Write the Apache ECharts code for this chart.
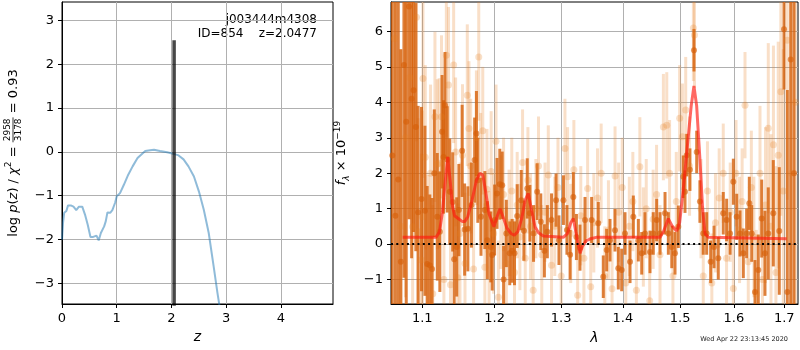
<!DOCTYPE html>
<html>
<head>
<meta charset="utf-8">
<script src="https://cdn.jsdelivr.net/npm/echarts@6.0.0/dist/echarts.min.js"></script>
<style>
html, body { margin: 0; padding: 0; background: #fff; }
#main { width: 800px; height: 350px; }
</style>
</head>
<body>
<div id="main"></div>
<script>
// left panel: log p(z)
var pzZ = [0.00, 0.02, 0.04, 0.08, 0.11, 0.16, 0.21, 0.26, 0.31, 0.37, 0.42, 0.47, 0.52, 0.57, 0.63, 0.67,
  0.71, 0.77, 0.80, 0.83, 0.88, 0.92, 0.97, 1.00, 1.06, 1.13, 1.21, 1.29, 1.38, 1.43, 1.52, 1.61,
  1.68, 1.79, 1.92, 2.03, 2.13, 2.22, 2.31, 2.41, 2.50, 2.59, 2.68, 2.77, 2.84, 2.90];
var pzLog = [-2.00, -1.60, -1.39, -1.35, -1.22, -1.22, -1.25, -1.33, -1.25, -1.25, -1.43, -1.66, -1.94, -1.94, -1.91, -2.02,
  -1.85, -1.70, -1.58, -1.38, -1.39, -1.33, -1.16, -1.01, -0.94, -0.75, -0.52, -0.33, -0.14, -0.08, 0.02, 0.04,
  0.05, 0.02, -0.01, -0.04, -0.08, -0.17, -0.33, -0.56, -0.90, -1.32, -1.85, -2.61, -3.22, -3.70];
var zBest = 2.0477;
var zBarTop = 2.55;
var zTicks = [0, 1, 2, 3, 4];
var pzTicks = [-3, -2, -1, 0, 1, 2, 3];

// right panel: spectrum, binned (dark)
var darkWave = [1.0610, 1.0650, 1.0687, 1.0720, 1.0760, 1.0790, 1.0826, 1.0860, 1.0885, 1.0915, 1.0945,
  1.0990, 1.1035, 1.1065, 1.1100, 1.1130, 1.1160, 1.1200, 1.1235, 1.1265, 1.1285, 1.1305, 1.1335, 1.1370,
  1.1410, 1.1430, 1.1465, 1.1495, 1.1540, 1.1575, 1.1620, 1.1670, 1.1715, 1.1740, 1.1760, 1.1805, 1.1860,
  1.1895, 1.1945, 1.1965, 1.2000, 1.2035, 1.2075, 1.2110, 1.2130, 1.2170, 1.2220, 1.2255, 1.2290, 1.2330,
  1.2390, 1.2430, 1.2480, 1.2520, 1.2575, 1.2630, 1.2685, 1.2740, 1.2785, 1.2850, 1.2920, 1.2965, 1.3035,
  1.3090, 1.3140, 1.3191, 1.3240, 1.3297, 1.3378, 1.3485, 1.3593, 1.3675, 1.3731, 1.3786, 1.3869, 1.3924,
  1.3981, 1.4037, 1.4122, 1.4178, 1.4264, 1.4322, 1.4378, 1.4465, 1.4522, 1.4582, 1.4641, 1.4729, 1.4788,
  1.4849, 1.4907, 1.4966, 1.5056, 1.5087, 1.5119, 1.5177, 1.5251, 1.5301, 1.5360, 1.5422, 1.5485, 1.5560,
  1.5623, 1.5703, 1.5797, 1.5862, 1.5927, 1.5990, 1.6055, 1.6119, 1.6183, 1.6248, 1.6300, 1.6347, 1.6412,
  1.6477, 1.6545, 1.6610, 1.6676, 1.6777, 1.6898, 1.6995, 1.7062, 1.7132, 1.7200];
var darkFlux = [2.50, 0.80, 1.82, -0.50, 5.05, 3.45, 6.70, 4.10, 4.34, 3.30, 0.90,
  1.27, 0.94, -0.56, -0.60, -0.70, 2.00, 0.77, 0.35, 3.17, 2.46, 3.92, 2.39, 1.48,
  1.19, -0.43, -0.08, 0.96, 2.63, 0.41, 0.43, 1.10, 2.37, 3.12, 1.80, 0.77, 0.96,
  0.11, -0.08, -0.31, 0.68, 1.43, 1.69, 1.66, -1.00, 0.30, -0.26, -0.19, -0.26, 0.79,
  1.24, 0.38, 1.57, 0.87, 0.30, 1.48, 0.63, -0.19, 0.35, 0.68, 1.24, 0.11, 1.24,
  0.40, -0.30, 1.33, 0.20, -0.10, 0.68, 0.68, 0.59, -0.92, -0.17, 0.11, 0.39, -0.68,
  -0.73, 0.30, -0.50, 0.77, 0.11, -0.26, 0.30, -0.22, 0.30, 0.68, 0.30, 0.87, 0.30,
  -0.08, -0.26, 0.49, 1.90, 1.48, 2.51, 2.10, 5.47, 2.60, 1.20, 0.30, 0.30, -0.50,
  -0.08, -0.40, 0.87, 0.68, 0.30, 1.76, 0.77, 0.30, -0.26, 0.30, 1.15, 0.30, -1.35,
  -0.73, 0.72, -0.26, 0.30, 0.87, 0.37, 6.06, -1.35, 5.21, 2.00];
var darkErr = [8.0, 6.5, 7.0, 6.0, 6.0, 5.5, 6.0, 4.5, 4.0, 3.5, 3.0,
  2.6, 2.4, 2.2, 2.0, 2.0, 1.8, 1.8, 1.7, 1.6, 1.6, 1.5, 1.5, 1.5,
  1.4, 1.4, 1.4, 1.3, 1.3, 1.3, 1.2, 1.2, 1.2, 1.2, 1.2, 1.1, 1.1,
  1.1, 1.0, 1.0, 1.0, 1.0, 1.0, 0.95, 0.95, 0.95, 0.9, 0.9, 0.9, 0.9,
  0.85, 0.85, 0.85, 0.8, 0.8, 0.8, 0.8, 0.75, 0.75, 0.75, 0.75, 0.7, 0.7,
  0.7, 0.7, 0.7, 0.65, 0.65, 0.65, 0.65, 0.6, 0.6, 0.6, 0.6, 0.6, 0.6,
  0.6, 0.6, 0.6, 0.6, 0.6, 0.6, 0.6, 0.6, 0.6, 0.6, 0.6, 0.6, 0.6,
  0.6, 0.6, 0.6, 0.6, 0.6, 0.6, 0.6, 0.6, 0.6, 0.6, 0.6, 0.6, 0.6,
  0.6, 0.6, 0.6, 0.6, 0.6, 0.65, 0.65, 0.65, 0.7, 0.7, 0.75, 0.8, 0.9,
  1.0, 1.1, 1.2, 1.3, 1.5, 1.8, 1.7, 5.7, 7.0, 8.0];

// right panel: spectrum, unbinned (light)
var lightWave = [1.0640, 1.0720, 1.0780, 1.0839, 1.0873, 1.0924, 1.0945, 1.0988, 1.1001, 1.1009, 1.1040,
  1.1075, 1.1110, 1.1140, 1.1169, 1.1200, 1.1225, 1.1257, 1.1290, 1.1323, 1.1353, 1.1380, 1.1423, 1.1450,
  1.1480, 1.1510, 1.1545, 1.1580, 1.1612, 1.1635, 1.1660, 1.1700, 1.1740, 1.1773, 1.1800, 1.1830, 1.1860,
  1.1890, 1.1920, 1.1950, 1.1985, 1.2020, 1.2055, 1.2090, 1.2130, 1.2170, 1.2210, 1.2250, 1.2290, 1.2330,
  1.2370, 1.2410, 1.2450, 1.2490, 1.2530, 1.2569, 1.2610, 1.2650, 1.2700, 1.2750, 1.2800, 1.2850, 1.2900,
  1.2950, 1.3000, 1.3059, 1.3100, 1.3150, 1.3200, 1.3260, 1.3310, 1.3360, 1.3420, 1.3470, 1.3520, 1.3580,
  1.3640, 1.3700, 1.3760, 1.3820, 1.3870, 1.3930, 1.3990, 1.4050, 1.4110, 1.4170, 1.4230, 1.4290, 1.4350,
  1.4400, 1.4460, 1.4520, 1.4580, 1.4640, 1.4700, 1.4760, 1.4810, 1.4870, 1.4930, 1.4990, 1.5040, 1.5100,
  1.5170, 1.5240, 1.5260, 1.5380, 1.5422, 1.5500, 1.5582, 1.5650, 1.5720, 1.5797, 1.5860, 1.5930, 1.5990,
  1.6042, 1.6110, 1.6160, 1.6216, 1.6280, 1.6340, 1.6390, 1.6438, 1.6511, 1.6560, 1.6620, 1.6676, 1.6730,
  1.6780, 1.6830, 1.6877, 1.6930, 1.6980, 1.7062, 1.7150, 1.7230];
var lightFlux = [5.80, 0.50, 3.00, 4.70, 0.49, 6.40, 0.35, -0.45, 0.77, 4.67, 2.45,
  -0.65, 2.00, -1.40, 3.59, 2.25, 2.28, 3.59, -1.00, 5.33, 4.49, -1.15, 5.05, 2.60,
  -0.95, 0.30, 2.51, -0.55, 4.20, 3.26, 2.20, -0.70, 3.00, 5.28, 1.90, 3.20, -0.65,
  1.55, -0.20, 2.05, 0.30, 2.90, -1.50, 0.90, 1.40, -0.55, 0.60, 1.50, -0.80, 1.10,
  0.20, 2.30, -0.40, 1.80, 0.50, -1.30, 1.00, 2.20, -0.30, 0.90, 1.95, -0.60, 0.50,
  1.60, -0.90, 2.70, 1.90, 0.30, 2.10, -1.44, 0.80, -0.40, 1.57, -1.20, 0.60, 1.30,
  2.00, -0.90, 0.40, -1.26, 1.92, 0.90, 1.60, -1.10, 0.50, 1.20, -1.30, 2.18, 0.20,
  1.00, -1.60, 0.70, 1.40, -0.30, 3.30, 3.35, 2.00, -0.90, 1.20, 3.55, 3.03, 3.78,
  2.20, 6.10, 5.90, 1.00, -0.90, 1.50, -1.10, 0.60, 1.30, 2.00, -0.40, 0.90, -1.25,
  2.00, 0.40, 1.20, 3.92, -0.50, 1.60, 0.20, -1.40, 2.00, -1.00, 1.10, 3.27, 0.50,
  2.80, -0.80, 2.51, 4.30, 1.50, 5.75, 2.00, 4.00];
var lightErr = [5.0, 5.0, 4.5, 4.0, 3.5, 3.5, 3.2, 3.0, 3.0, 2.8, 2.6,
  2.6, 2.5, 2.5, 2.4, 2.4, 2.4, 2.3, 2.3, 2.3, 2.2, 2.2, 2.2, 2.1,
  2.1, 2.0, 2.0, 2.0, 2.0, 1.9, 1.9, 1.9, 1.9, 1.8, 1.8, 1.8, 1.8,
  1.7, 1.7, 1.7, 1.7, 1.6, 1.6, 1.6, 1.6, 1.6, 1.5, 1.5, 1.5, 1.5,
  1.5, 1.5, 1.5, 1.5, 1.5, 1.5, 1.4, 1.4, 1.4, 1.4, 1.4, 1.4, 1.4,
  1.4, 1.4, 1.4, 1.4, 1.4, 1.4, 1.4, 1.4, 1.4, 1.4, 1.4, 1.4, 1.4,
  1.4, 1.4, 1.4, 1.4, 1.4, 1.4, 1.4, 1.4, 1.4, 1.4, 1.4, 1.4, 1.4,
  1.4, 1.4, 1.4, 1.4, 1.4, 1.5, 1.5, 1.5, 1.4, 1.4, 1.5, 1.5, 1.5,
  1.4, 1.5, 1.5, 1.4, 1.4, 1.4, 1.4, 1.4, 1.4, 1.4, 1.4, 1.4, 1.4,
  1.5, 1.5, 1.5, 1.5, 1.6, 1.6, 1.7, 1.8, 1.9, 2.0, 2.2, 2.4, 2.6,
  2.8, 3.0, 3.2, 3.5, 4.0, 4.5, 6.0, 7.0];

// best-fit model
var modelWave = [1.0744, 1.1183, 1.1230, 1.1270, 1.1305, 1.1342, 1.1375, 1.1405, 1.1435, 1.1455, 1.1500, 1.1540,
  1.1579, 1.1620, 1.1680, 1.1740, 1.1790, 1.1830, 1.1870, 1.1920, 1.1990, 1.2040, 1.2078, 1.2120, 1.2180,
  1.2240, 1.2287, 1.2340, 1.2400, 1.2450, 1.2496, 1.2540, 1.2597, 1.2650, 1.2723, 1.3033, 1.3100, 1.3150,
  1.3191, 1.3230, 1.3298, 1.3340, 1.3400, 1.3486, 1.3560, 1.4640, 1.4700, 1.4787, 1.4860, 1.4937, 1.4990,
  1.5048, 1.5120, 1.5200, 1.5250, 1.5300, 1.5360, 1.5410, 1.5454, 1.5515, 1.7050];
var modelFlux = [0.19, 0.19, 0.35, 0.90, 1.70, 2.46, 1.80, 1.10, 0.80, 0.77, 0.70, 0.64,
  0.64, 0.78, 1.25, 1.80, 2.00, 1.95, 1.50, 0.85, 0.49, 0.80, 1.00, 0.78, 0.45,
  0.30, 0.25, 0.35, 0.75, 1.25, 1.43, 1.00, 0.49, 0.32, 0.23, 0.19, 0.30, 0.60,
  0.72, 0.35, -0.26, -0.05, 0.10, 0.16, 0.19, 0.19, 0.35, 0.72, 0.50, 0.37, 0.60,
  1.43, 2.60, 3.90, 4.46, 3.90, 2.40, 1.00, 0.30, 0.19, 0.15];
var waveTicks = [1.1, 1.2, 1.3, 1.4, 1.5, 1.6, 1.7];
var fluxTicks = [-1, 0, 1, 2, 3, 4, 5, 6];

var FONT = 'DejaVu Sans';
var chart = echarts.init(document.getElementById('main'), null, { renderer: 'canvas' });

function minus(v) { return String(v).replace('-', '\u2212'); }

function errBars(waves, flux, errs, color, width) {
  var data = waves.map(function (w, i) { return [w, flux[i] - errs[i], flux[i] + errs[i]]; });
  return {
    type: 'custom', xAxisIndex: 1, yAxisIndex: 1, clip: true, silent: true,
    data: data,
    encode: { x: 0, y: [1, 2] },
    renderItem: function (params, api) {
      var lo = api.coord([api.value(0), api.value(1)]);
      var hi = api.coord([api.value(0), api.value(2)]);
      return {
        type: 'line',
        shape: { x1: lo[0], y1: lo[1], x2: hi[0], y2: hi[1] },
        style: { stroke: color, lineWidth: width }
      };
    }
  };
}

function points(waves, flux, color, size) {
  return {
    type: 'scatter', xAxisIndex: 1, yAxisIndex: 1, silent: true,
    symbol: 'circle', symbolSize: size,
    itemStyle: { color: color },
    data: waves.map(function (w, i) { return [w, flux[i]]; })
  };
}

function axisCommon(ticks) {
  return {
    axisLine: { show: true, onZero: false, lineStyle: { color: '#000', width: 1 } },
    axisTick: { show: true, length: 4, lineStyle: { color: '#000' }, customValues: ticks },
    axisLabel: { color: '#000', fontFamily: FONT, fontSize: 13, customValues: ticks, formatter: minus },
    splitLine: { show: true, lineStyle: { color: '#b0b0b0', width: 1 } }
  };
}

// rotated left y label with a stacked fraction
var measure = document.createElement('canvas').getContext('2d');
function tw(str, font) { measure.font = font; return measure.measureText(str).width; }
var fN = '13px "DejaVu Sans"', fI = 'italic 13px "DejaVu Sans"', fS = '9px "DejaVu Sans"';
var parts = [
  { t: 'log ', f: fN, dy: 0 }, { t: 'p', f: fI, dy: 0 }, { t: '(', f: fN, dy: 0 }, { t: 'z', f: fI, dy: 0 },
  { t: ')', f: fN, dy: 0 }, { t: ' / ', f: fN, dy: 0 }, { t: '\u03c7', f: fI, dy: 0 }, { t: '2', f: fS, dy: -5 },
  { t: ' = ', f: fN, dy: 0 }, { frac: ['2958', '3178'] }, { t: ' = 0.93', f: fN, dy: 0 }
];
var labelEls = [];
var cursor = 0;
parts.forEach(function (p) {
  if (p.frac) {
    var w = Math.max(tw(p.frac[0], fS), tw(p.frac[1], fS)) + 2;
    labelEls.push({ type: 'text', x: cursor + w / 2, y: -6, style: { text: p.frac[0], font: fS, fill: '#000', align: 'center', verticalAlign: 'middle' } });
    labelEls.push({ type: 'text', x: cursor + w / 2, y: 5, style: { text: p.frac[1], font: fS, fill: '#000', align: 'center', verticalAlign: 'middle' } });
    labelEls.push({ type: 'line', x: cursor, y: 0, shape: { x1: 0, y1: -1, x2: w, y2: -1 }, style: { stroke: '#000', lineWidth: 0.8 } });
    cursor += w;
  } else {
    labelEls.push({ type: 'text', x: cursor, y: p.dy, style: { text: p.t, font: p.f, fill: '#000', align: 'left', verticalAlign: 'middle' } });
    cursor += tw(p.t, p.f);
  }
});
labelEls.forEach(function (el) { el.x -= cursor / 2; });

var option = {
  animation: false,
  backgroundColor: '#fff',
  grid: [
    { left: 62, top: 2, width: 271, height: 302, show: true, borderColor: '#000', borderWidth: 1, backgroundColor: 'transparent' },
    { left: 391, top: 2, width: 407, height: 302, show: true, borderColor: '#000', borderWidth: 1, backgroundColor: 'transparent' }
  ],
  xAxis: [
    Object.assign({
      type: 'value', gridIndex: 0, min: 0, max: 4.95,
      name: 'z', nameLocation: 'middle', nameGap: 26,
      nameTextStyle: { fontFamily: FONT, fontSize: 14, fontStyle: 'italic', color: '#000' }
    }, axisCommon(zTicks)),
    Object.assign({
      type: 'log', gridIndex: 1, min: 1.0594, max: 1.7283,
      name: '\u03bb', nameLocation: 'middle', nameGap: 27,
      nameTextStyle: { fontFamily: FONT, fontSize: 14, fontStyle: 'italic', color: '#000' }
    }, axisCommon(waveTicks))
  ],
  yAxis: [
    Object.assign({ type: 'value', gridIndex: 0, min: -3.47, max: 3.42 }, axisCommon(pzTicks)),
    Object.assign({
      type: 'value', gridIndex: 1, min: -1.69, max: 6.83,
      name: '{i|f}{s|\u03bb}{n| \u00d7 10}{p|\u221219}', nameLocation: 'middle', nameRotate: 90, nameGap: 40,
      nameTextStyle: {
        color: '#000',
        rich: {
          i: { fontFamily: FONT, fontSize: 13, fontStyle: 'italic', lineHeight: 18, verticalAlign: 'middle' },
          n: { fontFamily: FONT, fontSize: 13, lineHeight: 18, verticalAlign: 'middle' },
          s: { fontFamily: FONT, fontSize: 9, fontStyle: 'italic', lineHeight: 10, verticalAlign: 'bottom' },
          p: { fontFamily: FONT, fontSize: 9, lineHeight: 10, verticalAlign: 'top' }
        }
      }
    }, axisCommon(fluxTicks))
  ],
  graphic: [
    { type: 'group', x: 14, y: 153, rotation: Math.PI / 2, children: labelEls },
    { type: 'text', x: 317, y: 20, style: { text: 'j003444m4308', font: '12px "DejaVu Sans"', fill: '#000', align: 'right', verticalAlign: 'middle' } },
    { type: 'text', x: 317, y: 34, style: { text: 'ID=854    z=2.0477', font: '12px "DejaVu Sans"', fill: '#000', align: 'right', verticalAlign: 'middle' } },
    { type: 'text', x: 788, y: 339, style: { text: 'Wed Apr 22 23:13:45 2020', font: '6.5px "DejaVu Sans"', fill: '#222', align: 'right', verticalAlign: 'middle' } }
  ],
  series: [
    {
      type: 'line', xAxisIndex: 0, yAxisIndex: 0, silent: true, showSymbol: false,
      lineStyle: { color: 'rgba(31,119,180,0.5)', width: 2 },
      data: pzZ.map(function (z, i) { return [z, pzLog[i]]; })
    },
    {
      type: 'line', xAxisIndex: 0, yAxisIndex: 0, silent: true, showSymbol: false,
      lineStyle: { color: 'rgba(0,0,0,0.72)', width: 3.5, cap: 'butt' },
      data: [[zBest, -3.6], [zBest, zBarTop]]
    },
    errBars(lightWave, lightFlux, lightErr, 'rgba(230,126,34,0.25)', 3),
    points(lightWave, lightFlux, 'rgba(230,126,34,0.3)', 7),
    errBars(darkWave, darkFlux, darkErr, 'rgba(214,96,10,0.8)', 3),
    points(darkWave, darkFlux, 'rgba(214,96,10,0.8)', 6),
    {
      type: 'line', xAxisIndex: 1, yAxisIndex: 1, silent: true, showSymbol: false,
      lineStyle: { color: 'rgba(255,25,15,0.65)', width: 3 },
      data: modelWave.map(function (w, i) { return [w, modelFlux[i]]; })
    },
    {
      type: 'line', xAxisIndex: 1, yAxisIndex: 1, silent: true, showSymbol: false,
      lineStyle: { color: '#000', width: 2, type: [2, 3.3], cap: 'butt' },
      data: [[1.0594, 0], [1.7283, 0]]
    }
  ]
};
chart.setOption(option);
</script>
</body>
</html>
